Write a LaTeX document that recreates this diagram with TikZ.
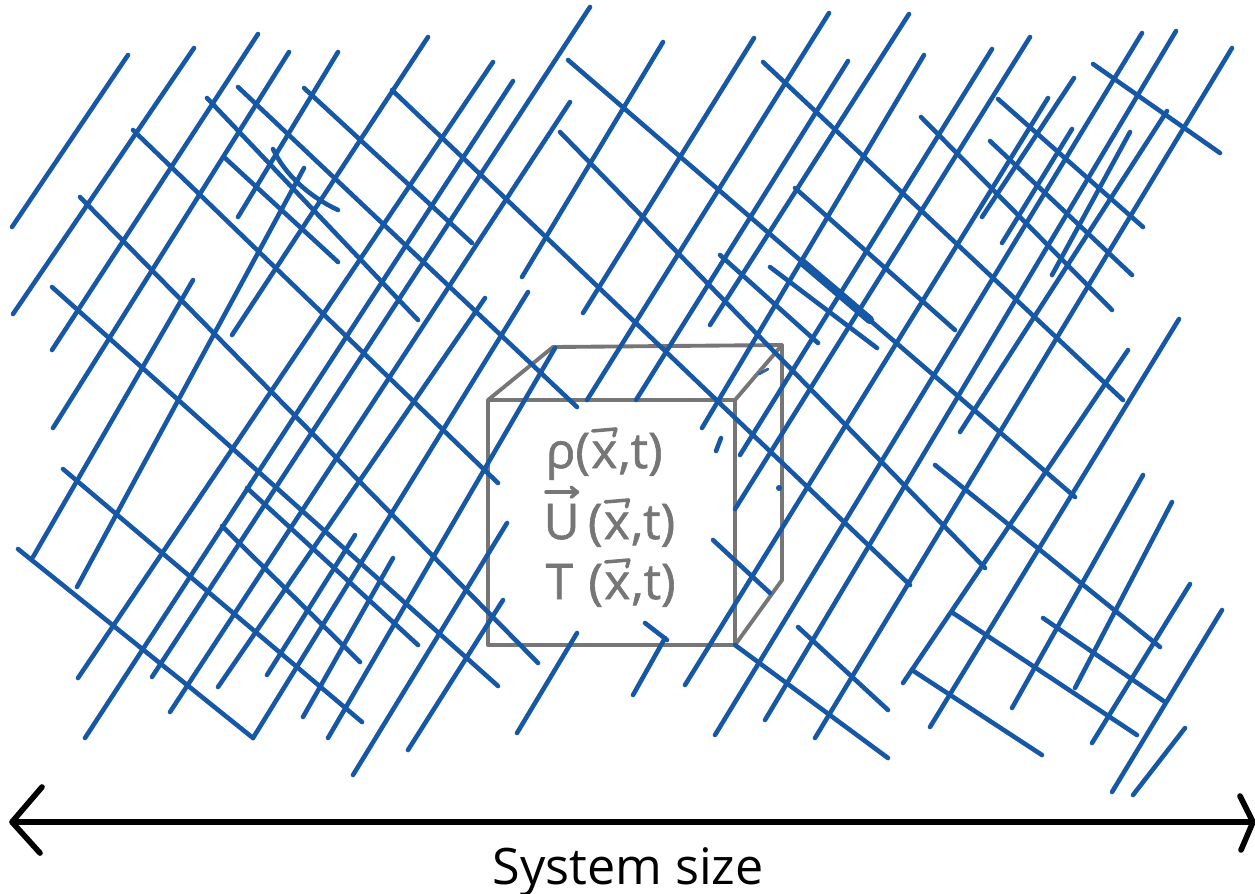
\documentclass[tikz,border=0pt]{standalone}
\usepackage{fontspec}
\newfontfamily\labelfont{Open Sans}
\newfontfamily\handfont{Open Sans}[FakeBold=1.2]
\definecolor{sketchblue}{RGB}{22,88,166}
\definecolor{cubegray}{RGB}{118,118,118}
\begin{document}
\begin{tikzpicture}[x=0.01cm,y=-0.01cm,
  blueline/.style={draw=sketchblue, line width=1.3pt, line cap=round},
  cubeline/.style={draw=cubegray, line width=1.1pt, line join=round, line cap=round},
  cubetext/.style={text=cubegray, font=\handfont\fontsize{14}{14}\selectfont, inner sep=0pt, anchor=base west},
  vecmark/.style={draw=cubegray, line width=1pt, line cap=round, line join=round},
  axisline/.style={draw=black, line width=1.9pt},
  axishead/.style={draw=black, line width=1.6pt, line cap=round, line join=round}]
\useasboundingbox (0,0) rectangle (1255,893);
\fill[white] (0,0) rectangle (1255,893);

% cube
\coordinate (fa) at (488,400); \coordinate (fb) at (735,400);
\coordinate (fc) at (735,645); \coordinate (fd) at (488,645);
\coordinate (ba) at (553,347); \coordinate (bb) at (782,345);
\coordinate (bc) at (782,580);
\draw[cubeline] (fa) -- (fb) -- (fc) -- (fd) -- cycle;
\draw[cubeline] (fa) -- (ba) -- (bb) -- (fb);
\draw[cubeline] (bb) -- (bc) -- (fc);

% field labels, built from pieces so the vector marks can be drawn above them
\node[cubetext] (ra) at (545,468) {ρ(};
\node[cubetext] (rx) at (ra.base east) {x};
\node[cubetext] (rc) at (rx.base east) {,t)};

\node[cubetext] (ua) at (543,539) {U};
\node[cubetext] (ub) at ([xshift=2]ua.base east) {(};
\node[cubetext] (ux) at (ub.base east) {x};
\node[cubetext] (uc) at (ux.base east) {,t)};

\node[cubetext] (ta) at (545,599) {T};
\node[cubetext] (tb) at ([xshift=4]ta.base east) {(};
\node[cubetext] (tx) at (tb.base east) {x};
\node[cubetext] (tc) at (tx.base east) {,t)};

\foreach \n in {rx,ux,tx}
  \draw[vecmark] ([shift={(2,-10)}]\n.north west) -- ([shift={(-2,-12)}]\n.north east) -- ([shift={(-4,-5)}]\n.north east);
\draw[vecmark] ([shift={(3,-11)}]ua.north west) -- ([shift={(-3,-11)}]ua.north east);
\draw[vecmark] ([shift={(-9,-16)}]ua.north east) -- ([shift={(-3,-11)}]ua.north east) -- ([shift={(-9,-6)}]ua.north east);

% lines SW-NE
\foreach \a/\b/\c/\d in {
128/55/12/227, 194/48/13/314, 258/34/52/350, 289/52/53/428, 338/52/238/217,
193/280/33/557, 428/37/232/335, 304/168/77/587, 493/62/78/678, 513/81/85/738,
590/7/152/677, 570/102/170/712, 485/298/218/687, 528/292/253/738, 355/535/267/675,
393/558/303/717, 555/348/328/738, 507/523/353/775, 503/600/408/750, 663/42/522/277,
754/38/583/313, 909/14/710/325, 924/55/702/428, 829/13/587/400, 848/61/636/400,
1074/78/982/217, 1072/129/1002/243, 1130/132/1052/275, 1167/111/960/432, 1176/31/765/720,
1142/33/715/735, 1048/98/685/685, 1232/48/815/738, 1128/350/903/683, 1179/319/930/727,
1143/475/1012/708, 1172/502/1075/688, 1190/584/1092/743, 1222/610/1112/792, 1185/728/1133/795,
577/633/517/733, 665/638/633/695, 992/49/740/455, 1030/37/735/509, 721/438/716/451}
  \draw[blueline] (\a,\b) -- (\c,\d);

% lines NW-SE
\foreach \a/\b/\c/\d in {
18/549/253/738, 63/469/362/722, 52/287/498/686, 80/197/538/663, 133/130/498/483,
207/98/418/320, 238/87/577/407, 304/88/472/243, 392/90/910/585, 225/158/338/262,
247/488/418/645, 222/526/360/662, 560/132/985/568, 568/60/1075/497, 763/62/1123/400,
720/255/818/343, 770/267/877/348, 921/117/1112/310, 998/99/1143/227, 990/141/1132/275,
1093/64/1220/153, 935/465/1160/647, 795/188/955/330, 953/613/1137/735, 1043/618/1165/702,
912/670/1042/755, 735/645/888/758, 798/627/888/710, 713/540/770/593, 645/623/667/640}
  \draw[blueline] (\a,\b) -- (\c,\d);

\draw[blueline] (273,149) .. controls (285,175) and (310,197) .. (338,210);
\draw[blueline, line width=2.4pt] (802,262) -- (870,320);
\draw[draw=sketchblue!70!gray, line width=0.8pt, line cap=round] (759,374) -- (768,369);
\fill[sketchblue] (779,488) circle (3);

% system size axis
\coordinate (axl) at (12,822);
\coordinate (axr) at (1253,822);
\draw[axisline] (axl) -- (axr);
\draw[axishead] (42,787) -- (axl) -- (40,853);
\draw[axishead] (1240,796) -- (axr) -- (1241,850);
\node[font=\labelfont\fontsize{14.3}{15}\selectfont, anchor=base, inner sep=0pt] (size) at (628,884) {System size};
\end{tikzpicture}
\end{document}
